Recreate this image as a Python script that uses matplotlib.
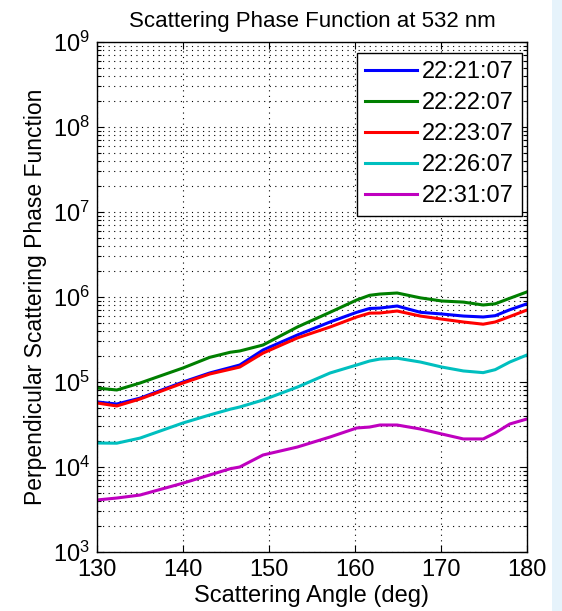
import numpy as np
import matplotlib
matplotlib.use("Agg")
import matplotlib.pyplot as plt
from matplotlib.patches import Rectangle

plt.rcParams['font.family'] = ['Liberation Sans', 'DejaVu Sans']
plt.rcParams['mathtext.fontset'] = 'custom'
plt.rcParams['mathtext.rm'] = 'Liberation Sans'
plt.rcParams['mathtext.it'] = 'Liberation Sans'

# Scattering angle (deg) and log10 of the phase function for each time stamp
angle = [130.0, 132.3, 135.0, 140.0, 143.1, 145.5, 146.6, 149.3, 153.3, 157.1,
         160.2, 161.7, 162.9, 164.9, 167.6, 170.1, 172.6, 174.9, 176.3, 178.0, 180.0]

log_2221 = [4.765, 4.741, 4.81, 5.0, 5.106, 5.17, 5.2, 5.376, 5.553, 5.706,
            5.82, 5.865, 5.87, 5.894, 5.82, 5.80, 5.776, 5.765, 5.78, 5.85, 5.92]
log_2222 = [4.929, 4.906, 4.988, 5.165, 5.29, 5.35, 5.365, 5.435, 5.647, 5.82,
            5.965, 6.02, 6.035, 6.047, 5.99, 5.953, 5.94, 5.906, 5.92, 5.985, 6.06]
log_2223 = [4.753, 4.718, 4.8, 4.988, 5.094, 5.15, 5.176, 5.34, 5.518, 5.647,
            5.765, 5.81, 5.812, 5.835, 5.776, 5.74, 5.706, 5.68, 5.706, 5.77, 5.847]
log_2226 = [4.282, 4.28, 4.34, 4.518, 4.612, 4.68, 4.706, 4.788, 4.94, 5.106,
            5.2, 5.247, 5.27, 5.28, 5.235, 5.176, 5.13, 5.11, 5.145, 5.235, 5.318]
log_2231 = [3.612, 3.635, 3.67, 3.81, 3.906, 3.98, 4.0, 4.141, 4.235, 4.353,
            4.459, 4.47, 4.494, 4.494, 4.447, 4.388, 4.33, 4.33, 4.40, 4.506, 4.565]

labels = ['22:21:07', '22:22:07', '22:23:07', '22:26:07', '22:31:07']
colors = ['#0000ff', '#007f00', '#ff0000', '#00bfbf', '#bf00bf']
series = [log_2221, log_2222, log_2223, log_2226, log_2231]

fig = plt.figure(figsize=(5.62, 6.11), dpi=100)
fig.patches.append(Rectangle((552 / 562, 0), 10 / 562, 1, transform=fig.transFigure,
                             facecolor='#e6f3fb', edgecolor='none', zorder=0))
ax = fig.add_axes([97 / 562, 59 / 611, 430 / 562, 510 / 611])

for vals, lab, col in zip(series, labels, colors):
    ax.plot(angle, 10 ** np.array(vals), color=col, lw=2.2, label=lab,
            solid_joinstyle='round')

ax.set_yscale('log')
ax.set_xlim(130, 180)
ax.set_ylim(1e3, 1e9)
ax.set_xticks([130, 140, 150, 160, 170, 180])
ax.set_yticks([1e3, 1e4, 1e5, 1e6, 1e7, 1e8, 1e9])

dots = (0, (1, 4))
ax.grid(True, which='major', axis='both', linestyle=dots, color='k', lw=0.8)
ax.grid(True, which='minor', axis='y', linestyle=dots, color='k', lw=0.8)

ax.tick_params(which='both', direction='in', top=True, right=True, labelsize=17)
ax.tick_params(which='major', length=5, width=0.8)
ax.tick_params(which='minor', length=3, width=0.8)
ax.tick_params(axis='x', pad=5)
ax.tick_params(axis='y', pad=5)
for sp in ax.spines.values():
    sp.set_linewidth(1.0)

ax.set_title('Scattering Phase Function at 532 nm', fontsize=16, pad=11)
ax.set_xlabel('Scattering Angle (deg)', fontsize=17, labelpad=3)
ax.set_ylabel('Perpendicular Scattering Phase Function', fontsize=16.5, labelpad=4)

leg = ax.legend(loc='upper right', bbox_to_anchor=(0.988, 0.978), fontsize=17,
                frameon=True, fancybox=False, edgecolor='k', framealpha=1,
                handlelength=2.2, handletextpad=0.2, borderpad=0.35,
                labelspacing=0.38, borderaxespad=0)
leg.get_frame().set_linewidth(1.0)

fig.savefig('out.png', dpi=100)
